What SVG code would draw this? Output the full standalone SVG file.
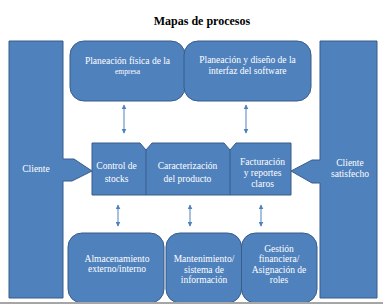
<svg xmlns="http://www.w3.org/2000/svg" width="383" height="304" viewBox="0 0 383 304">
  <style>
    .shape { fill: #4F81BD; stroke: #385D8A; stroke-width: 1; }
    .div { stroke: #385D8A; stroke-width: 1; fill: none; }
    .lbl { font-family: "Liberation Serif", "Times New Roman", serif; font-size: 9.5px; fill: #FFFFFF; text-anchor: middle; }
    .small { font-size: 7.5px; }
    .title { font-family: "Liberation Serif", "Times New Roman", serif; font-size: 12px; font-weight: bold; fill: #000000; text-anchor: middle; }
    .link { stroke: #4F81BD; stroke-width: 1; fill: none; marker-start: url(#tip); marker-end: url(#tip); }
  </style>
  <defs>
    <marker id="tip" viewBox="0 0 8 8" refX="7" refY="4" markerWidth="5" markerHeight="5" orient="auto-start-reverse" markerUnits="userSpaceOnUse">
      <path d="M0,0 L8,4 L0,8 Z" fill="#4F81BD"/>
    </marker>
  </defs>

  <rect width="383" height="304" fill="#FFFFFF"/>

  <text class="title" x="202" y="25">Mapas de procesos</text>

  <!-- Customer in -->
  <g id="cliente">
    <path class="shape" d="M9,41 H63 V159 H74 L92,171 L72,181 H63 V298 H9 Z"/>
    <text class="lbl" x="36" y="172">Cliente</text>
  </g>

  <!-- Satisfied customer out -->
  <g id="cliente-satisfecho">
    <path class="shape" d="M320,41 H377 V298 H320 V183 H312 L291,171 L312,160 H320 Z"/>
    <text class="lbl" x="350" y="166">Cliente</text>
    <text class="lbl" x="350" y="177">satisfecho</text>
  </g>

  <!-- Strategic processes -->
  <g id="planeacion-fisica">
    <rect class="shape" x="70" y="41" width="115" height="60" rx="14"/>
    <text class="lbl" x="127.5" y="64">Planeación física de la</text>
    <text class="lbl small" x="127.5" y="74">empresa</text>
  </g>
  <g id="planeacion-software">
    <rect class="shape" x="184" y="41" width="127" height="60" rx="14"/>
    <text class="lbl" x="247.5" y="63">Planeación y diseño de la</text>
    <text class="lbl" x="247.5" y="73.5">interfaz del software</text>
  </g>

  <!-- Core processes -->
  <g id="procesos-clave">
    <path class="shape" d="M92,143 H140 L146,150 L152,143 H224 L230,150 L236,143 H291 V195 H92 Z"/>
    <line class="div" x1="146" y1="150" x2="146" y2="195"/>
    <line class="div" x1="230" y1="150" x2="230" y2="195"/>
  </g>
  <g id="control-stocks">
    <text class="lbl" x="116.5" y="169">Control de</text>
    <text class="lbl" x="116.5" y="181.5">stocks</text>
  </g>
  <g id="caracterizacion">
    <text class="lbl" x="187.5" y="169">Caracterización</text>
    <text class="lbl" x="187.5" y="181.5">del producto</text>
  </g>
  <g id="facturacion">
    <text class="lbl" x="262.5" y="164.5">Facturación</text>
    <text class="lbl" x="262.5" y="175.5">y reportes</text>
    <text class="lbl" x="262.5" y="186.5">claros</text>
  </g>

  <!-- Support processes -->
  <g id="almacenamiento">
    <rect class="shape" x="68" y="233" width="96" height="70" rx="14"/>
    <text class="lbl" x="117" y="261.5">Almacenamiento</text>
    <text class="lbl" x="117" y="271.5">externo/interno</text>
  </g>
  <g id="mantenimiento">
    <rect class="shape" x="166" y="233" width="75.5" height="70" rx="14"/>
    <text class="lbl" x="204" y="262">Mantenimiento/</text>
    <text class="lbl" x="204" y="272.5">sistema de</text>
    <text class="lbl" x="204" y="283">información</text>
  </g>
  <g id="gestion-financiera">
    <rect class="shape" x="241.5" y="233" width="75.5" height="70" rx="14"/>
    <text class="lbl" x="279" y="251.5">Gestión</text>
    <text class="lbl" x="279" y="262">financiera/</text>
    <text class="lbl" x="279" y="272.5">Asignación de</text>
    <text class="lbl" x="279" y="283">roles</text>
  </g>

  <!-- Connectors -->
  <g id="conectores">
    <line class="link" x1="124" y1="105" x2="124" y2="133"/>
    <line class="link" x1="246" y1="105" x2="246" y2="133"/>
    <line class="link" x1="118" y1="205" x2="118" y2="226"/>
    <line class="link" x1="190" y1="205" x2="190" y2="226"/>
    <line class="link" x1="261" y1="205" x2="261" y2="226"/>
  </g>

  <rect x="0" y="302" width="383" height="2" fill="#A6A6A6"/>
</svg>
